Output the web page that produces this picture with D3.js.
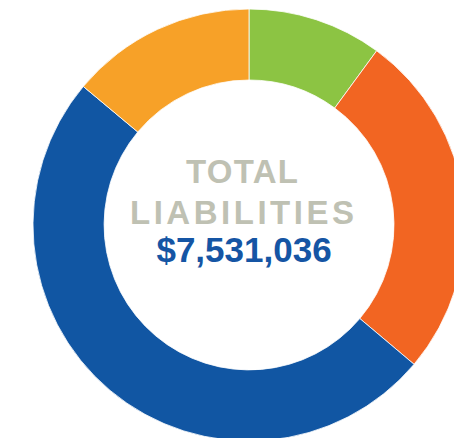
<!DOCTYPE html>
<html lang="en">
<head>
    <meta charset="UTF-8">
    <title>Total Liabilities</title>
    <script src="https://d3js.org/d3.v7.min.js"></script>
    <style>
        body { margin: 0; background: #fff; }
        svg { display: block; }
    </style>
</head>
<body>
    <div id="chart"></div>
    <script>
        // Slices, clockwise from the top
        const categories = ["Green", "Orange", "Blue", "Yellow"];
        const values = [758000, 1965000, 3760000, 1048036];
        const colors = ["#8cc443", "#f26522", "#1156a3", "#f7a128"];
        const titleLines = ["TOTAL", "LIABILITIES"];
        const totalLabel = "$7,531,036";

        const width = 454, height = 438;
        const cx = 249, cy = 225;
        const outerR = 216, innerR = 145;

        const svg = d3.select("#chart").append("svg")
            .attr("width", width)
            .attr("height", height);

        const pie = d3.pie().sort(null).value(d => d.value);
        const arc = d3.arc().innerRadius(innerR).outerRadius(outerR);

        const data = categories.map((c, i) => ({ name: c, value: values[i], color: colors[i] }));

        const g = svg.append("g").attr("transform", `translate(${cx},${cy})`);

        g.selectAll("path")
            .data(pie(data))
            .join("path")
            .attr("d", arc)
            .attr("fill", d => d.data.color)
            .attr("stroke", "#fff")
            .attr("stroke-width", 0.8);

        // Centre label
        const titleY = [-42, -1];
        const titleWidths = [112, 224];
        titleLines.forEach((t, i) => {
            g.append("text")
                .attr("x", -7)
                .attr("y", titleY[i])
                .attr("text-anchor", "middle")
                .attr("font-family", "'Liberation Sans', Arial, sans-serif")
                .attr("font-weight", "bold")
                .attr("font-size", "33px")
                .attr("fill", "#bfc1b3")
                .attr("textLength", titleWidths[i])
                .attr("lengthAdjust", "spacing")
                .text(t);
        });

        g.append("text")
            .attr("x", -5)
            .attr("y", 37)
            .attr("text-anchor", "middle")
            .attr("font-family", "'Liberation Sans', Arial, sans-serif")
            .attr("font-weight", "bold")
            .attr("font-size", "35px")
            .attr("fill", "#1555a4")
            .text(totalLabel);
    </script>
</body>
</html>
